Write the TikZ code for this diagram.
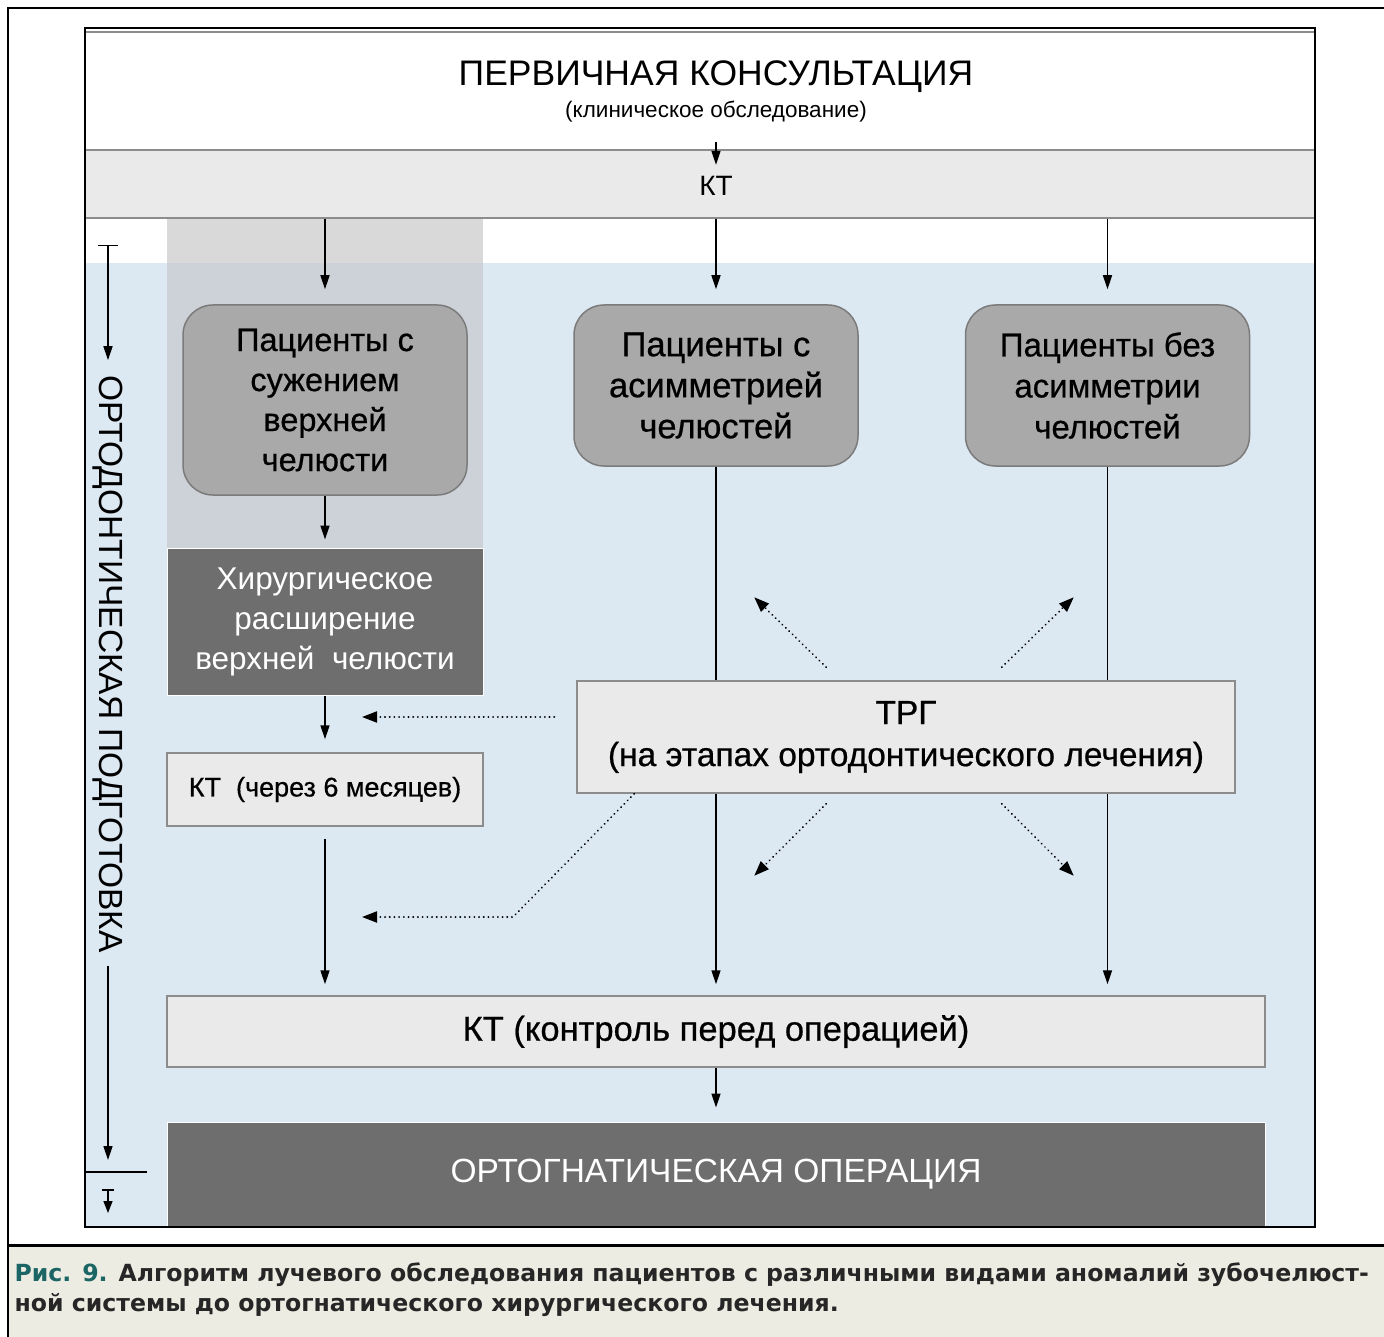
\documentclass[tikz,border=0pt]{standalone}
\usepackage{fontspec}
\setmainfont{Liberation Sans}
\newfontfamily\medfont{Liberation Sans}[FakeBold=0.6]
\newfontfamily\capfont{DejaVu Sans}
\usetikzlibrary{arrows.meta,positioning}

\definecolor{bgblue}{HTML}{DCE8F2}
\definecolor{colgray}{HTML}{D9D9D9}
\definecolor{colgrayblue}{HTML}{CCD2D7}
\definecolor{patgray}{HTML}{A9A9A9}
\definecolor{patedge}{HTML}{7B7B7B}
\definecolor{darkbox}{HTML}{6E6E6E}
\definecolor{lightbox}{HTML}{EAEAEA}
\definecolor{boxedge}{HTML}{8C8C8C}
\definecolor{capbg}{HTML}{EDECE2}
\definecolor{capteal}{HTML}{1B6565}

\begin{document}
\begin{tikzpicture}[x=1pt, y=-1pt,
    arr/.style={line width=1.5pt, -{Triangle[width=9pt,length=14pt]}},
    dots/.style={line width=2pt, line cap=round, dash pattern=on 0.1pt off 4.6pt, -{Triangle[width=11pt,length=15pt]}},
    patient/.style={draw=patedge, fill=patgray, line width=1.5pt, rounded corners=30pt, align=center, minimum width=284pt},
    ktbox/.style={draw=boxedge, fill=lightbox, line width=1.5pt, align=center},
    darkstep/.style={draw=white, fill=darkbox, line width=1pt, text=white, align=center}]

    \useasboundingbox (0,0) rectangle (1384,1337);

    % Draw the backgrounds
    \fill[capbg] (8,1245) rectangle (1384,1337);
    \fill[bgblue] (85,263) rectangle (1315,1227);
    \fill[colgray] (167,218) rectangle (483,263);
    \fill[colgrayblue] (167,263) rectangle (483,548);

    % Draw the consultation and the first KT
    \node[font=\fontsize{35.5}{40}\selectfont] (title) at (716,77) {ПЕРВИЧНАЯ КОНСУЛЬТАЦИЯ};
    \node[font=\fontsize{22.5}{26}\selectfont] (sub) at (716,112) {(клиническое обследование)};
    \node[ktbox, minimum width=1230pt, minimum height=68pt] (band) at (700,184) {};
    \node[font=\fontsize{28}{32}\selectfont] (kt) at (716,186) {КТ};
    \draw[arr, shorten <=16pt, shorten >=8pt] (sub.south) -- (kt.north);

    % Draw the three groups of patients
    \node[patient, minimum height=190pt, font=\medfont\fontsize{32.5}{40}\selectfont] (p1) at (325,400)
        {Пациенты с\\сужением\\верхней\\челюсти};
    \node[patient, minimum height=161pt, font=\medfont\fontsize{34.5}{41}\selectfont] (p2) at (716,385.5)
        {Пациенты с\\асимметрией\\челюстей};
    \node[patient, minimum height=161pt, font=\medfont\fontsize{33}{41}\selectfont] (p3) at (1107.5,385.5)
        {Пациенты без\\асимметрии\\челюстей};

    \draw[arr] (band.south -| p1.north) -- ([yshift=15pt]p1.north);
    \draw[arr] (band.south -| p2.north) -- ([yshift=15pt]p2.north);
    \draw[arr] (band.south -| p3.north) -- ([yshift=15pt]p3.north);

    % Draw the left column
    \node[darkstep, minimum width=316pt, minimum height=147pt, font=\fontsize{31.5}{40}\selectfont] (surg) at (325,621.5)
        {Хирургическое\\расширение\\верхней\ \ челюсти};
    \node[ktbox, minimum width=316pt, minimum height=73pt, font=\medfont\fontsize{27}{30}\selectfont] (kt6) at (325,789.5)
        {КТ\ \ (через 6 месяцев)};

    \draw[arr, shorten >=8pt] (p1) -- (surg);
    \draw[arr, shorten >=13pt] (surg) -- (kt6);

    % Draw the control KT and the operation
    \node[ktbox, minimum width=1098pt, minimum height=71pt, font=\medfont\fontsize{34.5}{38}\selectfont] (ctl) at (716,1031.5)
        {КТ (контроль перед операцией)};
    \node[darkstep, minimum width=1098pt, minimum height=105pt, font=\fontsize{33.5}{36}\selectfont] (op) at (716,1174.5)
        {ОРТОГНАТИЧЕСКАЯ ОПЕРАЦИЯ};

    \draw[arr, shorten <=12pt, shorten >=11pt] (kt6.south) -- (kt6.south |- ctl.north);
    \draw[arr, shorten >=11pt] (p2.south) -- (p2.south |- ctl.north);
    \draw[arr, shorten >=11pt] (p3.south) -- (p3.south |- ctl.north);
    \draw[arr, shorten >=14pt] (ctl) -- (op);

    % Draw the TRG box over the lines
    \node[ktbox, minimum width=658pt, minimum height=112pt, font=\medfont\fontsize{33.5}{42}\selectfont] (trg) at (906,737)
        {ТРГ\\(на этапах ортодонтического лечения)};

    \coordinate (t1) at (362,717);
    \coordinate (bend) at (513,917);
    \coordinate (t2) at (362,917);
    \draw[dots] ([shift={(-22,-20)}]trg.west) -- (t1);
    \draw[dots] ([xshift=58pt]trg.south west) -- (bend) -- (t2);
    \draw[dots] ([shift={(250,-13)}]trg.north west) -- ++(-72,-70);
    \draw[dots] ([shift={(-234,-13)}]trg.north east) -- ++(72,-70);
    \draw[dots] ([shift={(250,10)}]trg.south west) -- ++(-72,72);
    \draw[dots] ([shift={(-234,10)}]trg.south east) -- ++(72,72);

    % Draw the orthodontic preparation scale
    \node[rotate=-90, font=\fontsize{33.5}{36}\selectfont] (prep) at (108,664) {ОРТОДОНТИЧЕСКАЯ ПОДГОТОВКА};
    \coordinate (prepTop) at (108,245);
    \coordinate (prepEnd) at (108,1160);
    \draw[line width=1.5pt, {Bar[width=20pt]}-{Triangle[width=9pt,length=14pt]}, shorten >=12pt] (prepTop) -- (prep.west);
    \draw[arr, shorten <=10pt] (prep.east) -- (prepEnd);
    \draw[line width=2pt] (85,1172) -- (147,1172);
    \draw[line width=1.5pt, {Bar[width=12pt]}-{Triangle[width=9pt,length=12pt]}] (108,1189) -- (108,1213);

    % Draw the frames
    \draw[boxedge, line width=1.5pt] (86,32) -- (1314,32);
    \draw[line width=2pt] (85,28) rectangle (1315,1227);
    \draw[line width=2pt] (1384,8) -- (8,8) -- (8,1337);
    \draw[line width=3pt] (8,1245) -- (1384,1245);

    % Draw the caption
    \node[anchor=north west, align=left, text=black!85, font=\capfont\bfseries\fontsize{23.6}{30}\selectfont] (cap) at (11,1259)
        {\textcolor{capteal}{Рис. 9.} Алгоритм лучевого обследования пациентов с различными видами аномалий зубочелюст-\\ной системы до ортогнатического хирургического лечения.};
\end{tikzpicture}
\end{document}
